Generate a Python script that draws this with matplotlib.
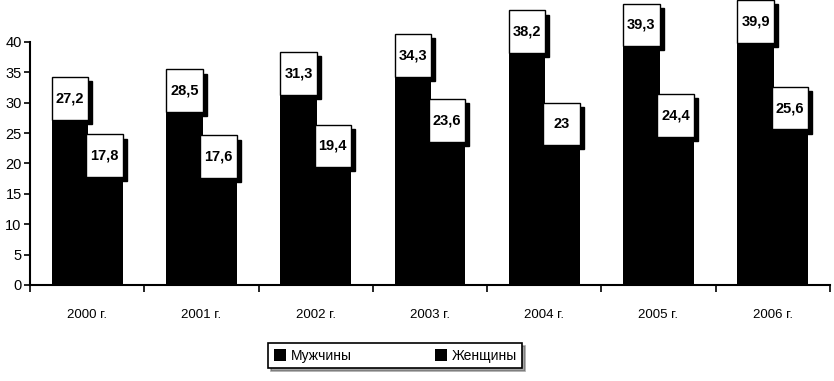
import numpy as np
import matplotlib.pyplot as plt
from matplotlib.patches import Rectangle

years = ['2000 г.', '2001 г.', '2002 г.', '2003 г.', '2004 г.', '2005 г.', '2006 г.']
men = [27.2, 28.5, 31.3, 34.3, 38.2, 39.3, 39.9]
women = [17.8, 17.6, 19.4, 23.6, 23, 24.4, 25.6]

plt.rcParams['font.family'] = ['Liberation Sans', 'DejaVu Sans']

fig = plt.figure(figsize=(8.34, 3.81), dpi=100)
ax = fig.add_axes([0.036, 0.252, 0.959, 0.638])

x = np.arange(len(years))
w = 0.32
off = 0.15

ax.bar(x - off, men, w, color='black', label='Мужчины', zorder=2)
ax.bar(x + off, women, w, color='black', label='Женщины', zorder=2)

def label_box(xc, v):
    # white box with a black shadow sitting on top of the bar
    h = 7.0
    lo = v
    ax.add_patch(Rectangle((xc - w / 2 + 0.035, lo - 0.7), w, h, facecolor='black',
                           edgecolor='black', clip_on=False, zorder=3))
    ax.add_patch(Rectangle((xc - w / 2, lo), w, h, facecolor='white',
                           edgecolor='black', linewidth=1, clip_on=False, zorder=4))
    txt = ('%g' % v).replace('.', ',')
    ax.text(xc, lo + h / 2, txt, ha='center', va='center', fontsize=10.5,
            fontweight='bold', family=['Liberation Sans Narrow', 'Liberation Sans'],
            zorder=5, clip_on=False)

for i in range(len(years)):
    label_box(x[i] - off, men[i])
    label_box(x[i] + off, women[i])

ax.set_xlim(-0.5, len(years) - 0.5)
ax.set_ylim(0, 40)
ax.set_yticks(range(0, 41, 5))
ax.set_xticks(x)
ax.set_xticklabels(years, fontsize=9.5)
ax.set_xticks(np.arange(-0.5, len(years)), minor=True)
ax.tick_params(axis='x', which='major', length=0, pad=17)
ax.tick_params(axis='x', which='minor', length=5, width=1.2, direction='out')
ax.tick_params(axis='y', length=4, width=1.2, labelsize=10.5, pad=2)
for s in ['top', 'right']:
    ax.spines[s].set_visible(False)
for s in ['left', 'bottom']:
    ax.spines[s].set_linewidth(1.5)

leg = fig.legend(loc='center', bbox_to_anchor=(0.474, 0.066), ncol=2, fontsize=10,
                 frameon=True, fancybox=False, shadow=True, edgecolor='black',
                 handlelength=0.9, handleheight=0.9, handletextpad=0.3,
                 columnspacing=6.0, borderpad=0.4)
leg.get_frame().set_linewidth(1.2)

fig.savefig('out.png', dpi=100)
